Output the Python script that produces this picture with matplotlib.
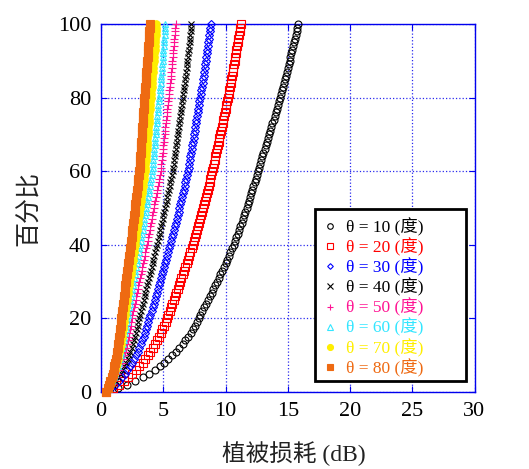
import matplotlib
matplotlib.use("Agg")
import matplotlib.pyplot as plt
from matplotlib.lines import Line2D
from matplotlib.patches import Rectangle

plt.rcParams['font.family'] = ['Liberation Serif', 'Noto Sans CJK SC']

# ---------------- data ----------------
percent = [
    0, 1, 2, 3, 4, 5, 6, 7, 8, 9,
    10, 11, 12, 13, 14, 15, 16, 17, 18, 19,
    20, 21, 22, 23, 24, 25, 26, 27, 28, 29,
    30, 31, 32, 33, 34, 35, 36, 37, 38, 39,
    40, 41, 42, 43, 44, 45, 46, 47, 48, 49,
    50, 51, 52, 53, 54, 55, 56, 57, 58, 59,
    60, 61, 62, 63, 64, 65, 66, 67, 68, 69,
    70, 71, 72, 73, 74, 75, 76, 77, 78, 79,
    80, 81, 82, 83, 84, 85, 86, 87, 88, 89,
    90, 91, 92, 93, 94, 95, 96, 97, 98, 99,
    100]

loss_theta10 = [
    0.40, 1.35, 2.05, 2.70, 3.35, 3.85, 4.30, 4.70, 5.05, 5.40,
    5.70, 6.00, 6.30, 6.55, 6.78, 6.99, 7.19, 7.38, 7.55, 7.70,
    7.84, 7.99, 8.14, 8.30, 8.45, 8.60, 8.74, 8.88, 9.02, 9.16,
    9.30, 9.44, 9.58, 9.72, 9.86, 10.00, 10.13, 10.26, 10.39, 10.52,
    10.65, 10.76, 10.87, 10.98, 11.09, 11.20, 11.30, 11.40, 11.50, 11.60,
    11.70, 11.79, 11.88, 11.97, 12.06, 12.15, 12.24, 12.33, 12.42, 12.51,
    12.60, 12.69, 12.78, 12.87, 12.96, 13.05, 13.14, 13.23, 13.32, 13.41,
    13.50, 13.59, 13.68, 13.77, 13.86, 13.95, 14.04, 14.13, 14.22, 14.31,
    14.40, 14.48, 14.56, 14.64, 14.72, 14.80, 14.87, 14.94, 15.01, 15.08,
    15.15, 15.22, 15.29, 15.36, 15.43, 15.50, 15.57, 15.64, 15.71, 15.78,
    15.85]

loss_theta20 = [
    0.40, 0.99, 1.42, 1.82, 2.18, 2.51, 2.81, 3.07, 3.34, 3.57,
    3.77, 3.96, 4.16, 4.33, 4.49, 4.66, 4.79, 4.92, 5.05, 5.19,
    5.28, 5.39, 5.51, 5.62, 5.74, 5.85, 5.95, 6.05, 6.16, 6.26,
    6.36, 6.46, 6.57, 6.67, 6.78, 6.88, 6.98, 7.08, 7.17, 7.27,
    7.37, 7.46, 7.54, 7.63, 7.71, 7.80, 7.88, 7.96, 8.04, 8.12,
    8.20, 8.27, 8.35, 8.42, 8.50, 8.57, 8.64, 8.72, 8.79, 8.87,
    8.94, 9.00, 9.07, 9.13, 9.19, 9.26, 9.32, 9.38, 9.44, 9.51,
    9.57, 9.63, 9.70, 9.76, 9.82, 9.89, 9.95, 10.01, 10.07, 10.14,
    10.20, 10.26, 10.31, 10.37, 10.42, 10.48, 10.53, 10.58, 10.63, 10.68,
    10.73, 10.78, 10.83, 10.88, 10.93, 10.98, 11.03, 11.08, 11.13, 11.18,
    11.23]

loss_theta30 = [
    0.40, 0.82, 1.13, 1.41, 1.67, 1.90, 2.12, 2.30, 2.49, 2.66,
    2.80, 2.94, 3.08, 3.20, 3.31, 3.43, 3.53, 3.62, 3.71, 3.81,
    3.88, 3.97, 4.06, 4.15, 4.24, 4.33, 4.41, 4.49, 4.58, 4.66,
    4.74, 4.82, 4.91, 4.99, 5.08, 5.16, 5.24, 5.33, 5.41, 5.50,
    5.58, 5.65, 5.73, 5.80, 5.88, 5.95, 6.02, 6.09, 6.16, 6.23,
    6.30, 6.37, 6.44, 6.50, 6.57, 6.64, 6.71, 6.78, 6.85, 6.92,
    6.99, 7.04, 7.09, 7.14, 7.18, 7.23, 7.28, 7.33, 7.38, 7.43,
    7.48, 7.52, 7.57, 7.62, 7.67, 7.72, 7.77, 7.82, 7.86, 7.91,
    7.96, 8.01, 8.06, 8.11, 8.16, 8.21, 8.25, 8.29, 8.33, 8.37,
    8.41, 8.45, 8.49, 8.53, 8.57, 8.61, 8.65, 8.69, 8.73, 8.77,
    8.81]

loss_theta40 = [
    0.40, 0.72, 0.96, 1.17, 1.37, 1.55, 1.71, 1.86, 2.00, 2.13,
    2.24, 2.34, 2.45, 2.54, 2.63, 2.72, 2.79, 2.87, 2.94, 3.01,
    3.06, 3.13, 3.21, 3.28, 3.36, 3.43, 3.50, 3.57, 3.64, 3.71,
    3.78, 3.85, 3.92, 4.00, 4.07, 4.14, 4.21, 4.28, 4.36, 4.43,
    4.50, 4.57, 4.63, 4.70, 4.76, 4.83, 4.89, 4.96, 5.02, 5.09,
    5.15, 5.21, 5.27, 5.33, 5.39, 5.45, 5.51, 5.58, 5.64, 5.71,
    5.77, 5.81, 5.85, 5.89, 5.93, 5.97, 6.01, 6.05, 6.09, 6.13,
    6.17, 6.21, 6.25, 6.29, 6.33, 6.36, 6.40, 6.44, 6.48, 6.52,
    6.56, 6.60, 6.64, 6.68, 6.72, 6.76, 6.80, 6.84, 6.87, 6.90,
    6.94, 6.98, 7.01, 7.04, 7.08, 7.11, 7.14, 7.17, 7.20, 7.23,
    7.26]

loss_theta50 = [
    0.40, 0.65, 0.83, 1.00, 1.16, 1.30, 1.42, 1.53, 1.65, 1.74,
    1.83, 1.91, 2.00, 2.07, 2.14, 2.21, 2.26, 2.32, 2.37, 2.43,
    2.47, 2.53, 2.59, 2.66, 2.72, 2.78, 2.84, 2.90, 2.95, 3.01,
    3.07, 3.13, 3.19, 3.26, 3.32, 3.38, 3.44, 3.50, 3.56, 3.62,
    3.68, 3.74, 3.79, 3.85, 3.90, 3.96, 4.02, 4.07, 4.13, 4.18,
    4.24, 4.29, 4.35, 4.40, 4.46, 4.51, 4.57, 4.62, 4.68, 4.73,
    4.79, 4.82, 4.85, 4.89, 4.92, 4.95, 4.98, 5.02, 5.05, 5.08,
    5.11, 5.15, 5.18, 5.21, 5.24, 5.28, 5.31, 5.34, 5.37, 5.41,
    5.44, 5.47, 5.50, 5.53, 5.56, 5.59, 5.62, 5.65, 5.68, 5.71,
    5.74, 5.76, 5.79, 5.82, 5.84, 5.87, 5.89, 5.92, 5.94, 5.97,
    5.99]

loss_theta60 = [
    0.40, 0.61, 0.76, 0.89, 1.02, 1.14, 1.24, 1.33, 1.42, 1.50,
    1.57, 1.64, 1.71, 1.77, 1.83, 1.88, 1.93, 1.98, 2.02, 2.07,
    2.10, 2.15, 2.20, 2.26, 2.31, 2.36, 2.41, 2.46, 2.51, 2.56,
    2.61, 2.66, 2.72, 2.77, 2.83, 2.88, 2.93, 2.98, 3.04, 3.09,
    3.14, 3.19, 3.24, 3.29, 3.34, 3.39, 3.44, 3.49, 3.54, 3.59,
    3.64, 3.69, 3.73, 3.78, 3.82, 3.87, 3.92, 3.97, 4.02, 4.07,
    4.12, 4.15, 4.17, 4.20, 4.23, 4.26, 4.28, 4.31, 4.34, 4.37,
    4.39, 4.42, 4.45, 4.48, 4.50, 4.53, 4.56, 4.59, 4.61, 4.64,
    4.67, 4.70, 4.73, 4.76, 4.79, 4.82, 4.85, 4.87, 4.90, 4.92,
    4.95, 4.97, 5.00, 5.02, 5.05, 5.07, 5.10, 5.12, 5.14, 5.16,
    5.18]

loss_theta70 = [
    0.40, 0.58, 0.70, 0.82, 0.93, 1.03, 1.12, 1.19, 1.27, 1.34,
    1.40, 1.46, 1.52, 1.57, 1.62, 1.66, 1.70, 1.74, 1.78, 1.82,
    1.85, 1.89, 1.94, 1.98, 2.03, 2.07, 2.11, 2.15, 2.20, 2.24,
    2.28, 2.32, 2.37, 2.41, 2.46, 2.50, 2.54, 2.59, 2.63, 2.68,
    2.72, 2.76, 2.80, 2.84, 2.88, 2.92, 2.96, 3.00, 3.04, 3.08,
    3.12, 3.16, 3.20, 3.24, 3.28, 3.32, 3.36, 3.40, 3.44, 3.48,
    3.52, 3.54, 3.57, 3.59, 3.61, 3.64, 3.66, 3.68, 3.70, 3.73,
    3.75, 3.77, 3.80, 3.82, 3.84, 3.87, 3.89, 3.91, 3.93, 3.96,
    3.98, 4.01, 4.03, 4.06, 4.08, 4.11, 4.13, 4.16, 4.18, 4.21,
    4.23, 4.25, 4.27, 4.30, 4.32, 4.34, 4.36, 4.38, 4.40, 4.42,
    4.44]

loss_theta80 = [
    0.40, 0.55, 0.66, 0.76, 0.85, 0.93, 1.01, 1.07, 1.14, 1.20,
    1.25, 1.30, 1.35, 1.39, 1.43, 1.47, 1.50, 1.54, 1.57, 1.60,
    1.63, 1.67, 1.71, 1.74, 1.78, 1.82, 1.86, 1.89, 1.93, 1.96,
    2.00, 2.04, 2.08, 2.11, 2.15, 2.19, 2.23, 2.27, 2.30, 2.34,
    2.38, 2.42, 2.45, 2.49, 2.52, 2.56, 2.59, 2.63, 2.66, 2.70,
    2.73, 2.77, 2.80, 2.84, 2.87, 2.91, 2.94, 2.98, 3.01, 3.05,
    3.08, 3.10, 3.12, 3.14, 3.16, 3.18, 3.20, 3.22, 3.24, 3.26,
    3.28, 3.30, 3.32, 3.34, 3.36, 3.38, 3.40, 3.42, 3.44, 3.46,
    3.48, 3.50, 3.53, 3.55, 3.58, 3.60, 3.63, 3.65, 3.67, 3.70,
    3.72, 3.74, 3.76, 3.78, 3.80, 3.82, 3.84, 3.86, 3.88, 3.90,
    3.92]

angles = [10, 20, 30, 40, 50, 60, 70, 80]
x_ticks = [0, 5, 10, 15, 20, 25, 30]
y_ticks = [0, 20, 40, 60, 80, 100]

series = [loss_theta10, loss_theta20, loss_theta30, loss_theta40,
          loss_theta50, loss_theta60, loss_theta70, loss_theta80]

# ---------------- styles ----------------
colors = ['#000000', '#ff0000', '#0000ff', '#000000',
          '#ff1493', '#33e6ff', '#ffee00', '#ee6a12']
markers = ['o', 's', 'D', 'x', '+', '^', 'o', 's']
msizes = [5.0, 5.2, 3.6, 4.6, 6.0, 4.6, 5.4, 5.4]
filled = [False, False, False, False, False, False, True, True]

fig = plt.figure(figsize=(5.29, 4.69), dpi=100)
ax = fig.add_axes([101 / 529, 1 - 392 / 469, 373.5 / 529, 368 / 469])

for xs, ang, c, m, ms, f in zip(series, angles, colors, markers, msizes, filled):
    ax.plot(xs, percent, linestyle='none', marker=m, markersize=ms,
            markeredgecolor=c, markerfacecolor=(c if f else 'none'),
            markeredgewidth=0.8, clip_on=False, zorder=3,
            label=f'θ = {ang} (度)')

ax.set_xlim(0, 30)
ax.set_ylim(0, 100)
ax.set_xticks(x_ticks)
ax.set_yticks(y_ticks)
ax.grid(True, color='#2a2aee', linestyle=':', linewidth=0.9)
ax.set_axisbelow(True)
for sp in ax.spines.values():
    sp.set_color('#0000ee')
    sp.set_linewidth(1.0)
ax.tick_params(direction='in', length=4, width=0.8, color='#0000ee',
               labelcolor='black', labelsize=16, pad=7,
               top=True, right=True)

ax.set_xlabel('植被损耗 (dB)', fontsize=17, color='#222222')
ax.set_ylabel('百分比', fontsize=18, color='#222222')
ax.xaxis.set_label_coords(0.517, -0.168)
ax.xaxis.label.set_va('center')
ax.yaxis.set_label_coords(-0.193, 0.5)
ax.yaxis.label.set_va('center')

# legend box
ax.add_patch(Rectangle((0.573, 0.030), 0.404, 0.467, transform=ax.transAxes,
                       facecolor='white', edgecolor='black', linewidth=2.0,
                       zorder=5, clip_on=False))
handles = [Line2D([], [], linestyle='none', marker=m, markersize=ms * 0.8,
                  markeredgecolor=c, markerfacecolor=(c if f else 'none'),
                  markeredgewidth=0.8)
           for c, m, ms, f in zip(colors, markers, msizes, filled)]
labels = [f'θ = {a} (度)' for a in angles]
leg = ax.legend(handles, labels, loc='upper left', bbox_to_anchor=(0.594, 0.474),
                frameon=False, fontsize=12.5, handlelength=0.8, handletextpad=0.56,
                labelspacing=0.1, borderpad=0, borderaxespad=0)
leg.set_zorder(6)
for t, c in zip(leg.get_texts(), colors):
    t.set_color(c)

fig.savefig('out.png', dpi=100)
